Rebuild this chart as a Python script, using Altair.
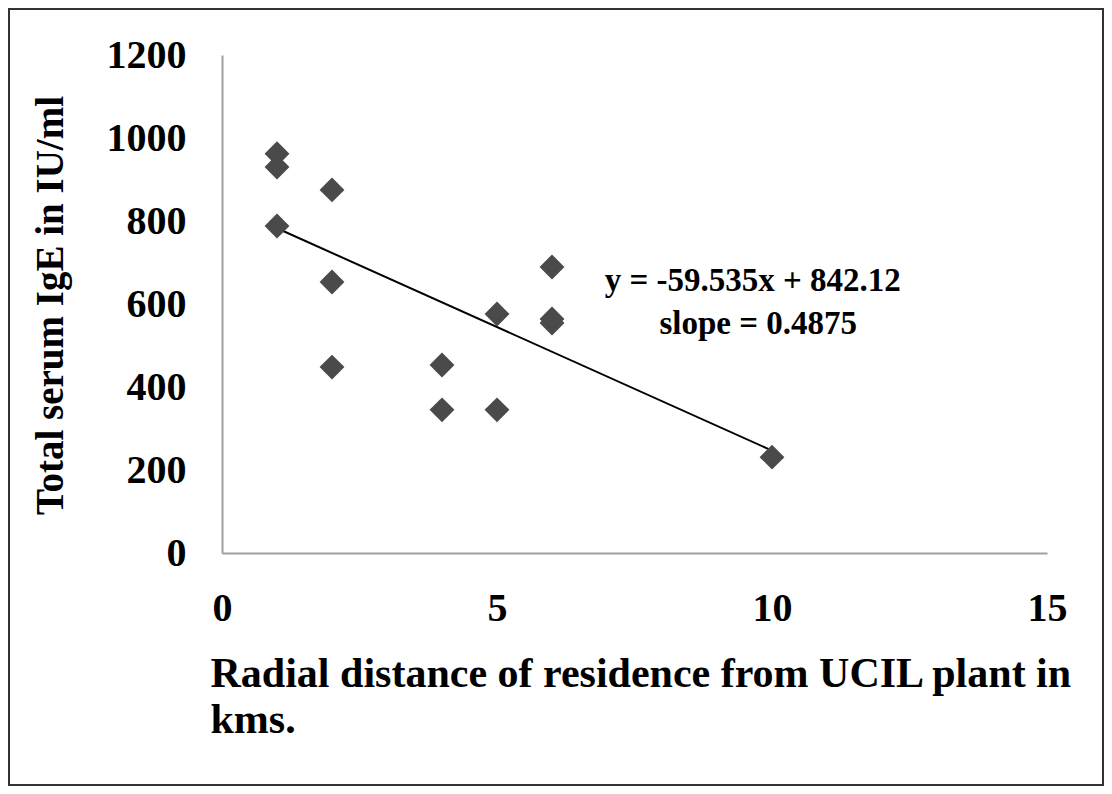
import altair as alt
import pandas as pd

# Data
distance_km = [1, 1, 1, 2, 2, 2, 4, 4, 5, 5, 6, 6, 6, 10]
ige_iu_ml = [962, 930, 788, 875, 653, 448, 453, 345, 576, 345, 689, 564, 554, 231]

slope = -59.535
intercept = 842.12
trend_x = [1, 10]
trend_y = [slope * v + intercept for v in trend_x]

eq_lines = ["y = -59.535x + 842.12", "slope = 0.4875"]
eq_x = [9.65, 9.75]
eq_y = [655, 553]

x_ticks = [0, 5, 10, 15]
y_ticks = [0, 200, 400, 600, 800, 1000, 1200]

pts = pd.DataFrame({"d": distance_km, "ige": ige_iu_ml})
trend = pd.DataFrame({"d": trend_x, "ige": trend_y})
eq = pd.DataFrame({"d": eq_x, "ige": eq_y, "t": eq_lines})

FONT = "Liberation Serif"
W, H = 825, 498

xs = alt.Scale(domain=[0, 15], nice=False)
ys = alt.Scale(domain=[0, 1200], nice=False)

xaxis = alt.Axis(
    values=x_ticks, grid=False, ticks=False, domainColor="#a0a0a0", domainWidth=2,
    labelFont=FONT, labelFontSize=40, labelFontWeight="bold", labelColor="black",
    labelPadding=35, labelBaseline="top", format="d", labelFlush=False,
    title=["Radial distance of residence from UCIL plant in", "kms."],
    titleFont=FONT, titleFontSize=42, titleFontWeight="bold", titleColor="black",
    titleAnchor="start", titleAlign="left", titleX=-12, titleY=100,
    titleBaseline="top", titleLineHeight=46,
)
yaxis = alt.Axis(
    values=y_ticks, grid=False, ticks=False, domainColor="#a0a0a0", domainWidth=2,
    labelFont=FONT, labelFontSize=40, labelFontWeight="bold", labelColor="black",
    labelPadding=36, format="d",
    title="Total serum IgE in IU/ml",
    titleFont=FONT, titleFontSize=39, titleFontWeight="bold", titleColor="black",
    titleAngle=-90, titleX=-172, titleY=250, titleAlign="center",
    titleBaseline="middle",
)

points = alt.Chart(pts).mark_point(
    shape="diamond", filled=True, color="#4a4a4a", size=620, opacity=1
).encode(
    x=alt.X("d:Q", scale=xs, axis=xaxis),
    y=alt.Y("ige:Q", scale=ys, axis=yaxis),
)

line = alt.Chart(trend).mark_line(color="black", strokeWidth=2).encode(
    x=alt.X("d:Q", scale=xs), y=alt.Y("ige:Q", scale=ys)
)

text = alt.Chart(eq).mark_text(
    font=FONT, fontSize=33, fontWeight="bold", color="black", align="center"
).encode(
    x=alt.X("d:Q", scale=xs), y=alt.Y("ige:Q", scale=ys), text="t:N"
)

frame = alt.Chart(pts).mark_rect(
    fill=None, stroke="#333333", strokeWidth=2, clip=False
).encode(
    x=alt.value(-213), x2=alt.value(W + 56),
    y=alt.value(-46), y2=alt.value(H + 232),
)

chart = alt.layer(frame, line, points, text).properties(
    width=W, height=H,
    autosize=alt.AutoSizeParams(type="none"),
    padding={"left": 214, "top": 47, "right": 57, "bottom": 233},
).configure_view(stroke=None)

chart.save("out.html", embed_options={"renderer": "svg", "actions": False})
